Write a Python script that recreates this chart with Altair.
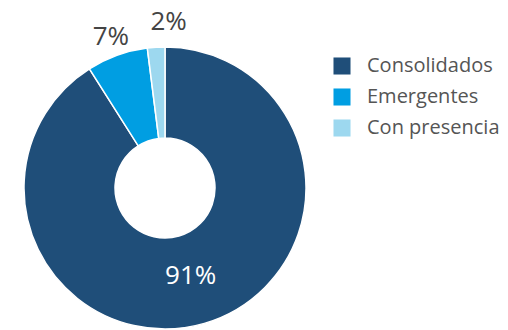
import altair as alt
import pandas as pd

categories = ["Consolidados", "Emergentes", "Con presencia"]
values = [91, 7, 2]
labels = ["91%", "7%", "2%"]
colors = ["#1f4e79", "#009ee2", "#9dd8ef"]

df = pd.DataFrame({"cat": categories, "val": values, "lab": labels, "order": [0, 1, 2]})

cx, cy = 165, 188

theta_scale = alt.Scale(domain=[0, 100], range=[0, 6.283185307179586])

arcs = alt.Chart(df).mark_arc(innerRadius=50, outerRadius=141, stroke="white", strokeWidth=1.5).encode(
    theta=alt.Theta("val:Q", stack=True),
    order=alt.Order("order:Q"),
    x=alt.value(cx), y=alt.value(cy),
    color=alt.Color("cat:N", scale=alt.Scale(domain=categories, range=colors),
                    sort=categories,
                    legend=alt.Legend(title=None, orient="none", legendX=332, legendY=56,
                                      symbolType="square", symbolSize=290, symbolStrokeWidth=0,
                                      labelFont="Open Sans", labelFontSize=20, labelColor="#555555",
                                      labelOffset=15, rowPadding=11, symbolOpacity=1)),
)

lab_base = alt.Chart(df).transform_window(
    cum="sum(val)", sort=[alt.SortField("order")]
).transform_calculate(mid="datum.cum - datum.val / 2")


def label_layer(cat, radius, color, dx=0):
    return lab_base.transform_filter(alt.datum.cat == cat).mark_text(
        radius=radius, dx=dx, font="Open Sans", fontSize=26, color=color
    ).encode(
        theta=alt.Theta("mid:Q", scale=theta_scale, stack=None),
        x=alt.value(cx), y=alt.value(cy), text="lab:N")


inner = label_layer("Consolidados", 92, "white")
out7 = label_layer("Emergentes", 160, "#444444")
out2 = label_layer("Con presencia", 166, "#444444", dx=14)

chart = alt.layer(arcs, inner, out7, out2).resolve_scale(theta="independent").properties(
    width=508, height=330, padding=0, autosize=alt.AutoSizeParams(type="none")
).configure_view(stroke=None)

chart.save("out.html", embed_options={"renderer": "svg", "actions": False})
